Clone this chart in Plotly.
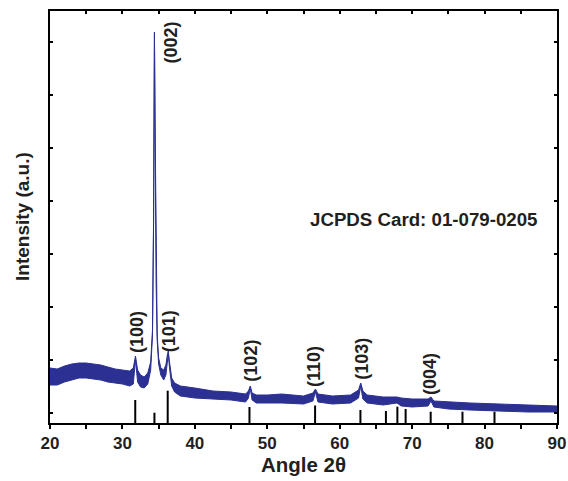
import plotly.graph_objects as go

# XRD pattern: noisy band given by its upper and lower edge (a.u.)
angle = [20.0, 21.0, 22.0, 23.0, 24.0, 25.0, 26.0, 27.0, 28.0, 29.0, 30.0, 31.0, 31.5, 31.8,
         32.1, 32.5, 33.0, 33.5, 33.9, 34.15, 34.3, 34.42, 34.5, 34.65, 34.8, 35.0, 35.3,
         35.7, 36.0, 36.2, 36.33, 36.5, 36.8, 37.2, 38.0, 40.0, 42.5, 45.0, 47.0, 47.4,
         47.65, 47.9, 48.5, 50.0, 52.0, 55.0, 56.3, 56.65, 57.0, 59.0, 61.5, 62.6, 62.9,
         63.2, 63.8, 66.0, 67.9, 68.5, 70.0, 72.2, 72.6, 73.0, 75.0, 78.0, 82.0, 86.0, 90.0]
upper = [550, 540, 570, 590, 600, 600, 590, 580, 560, 540, 530, 520, 550, 670,
         530, 480, 460, 500, 610, 930, 2030, 3910, 3030, 1430, 880, 650, 550,
         530, 580, 680, 720, 610, 450, 400, 370, 350, 320, 310, 290, 320,
         370, 300, 280, 280, 290, 270, 300, 340, 290, 270, 280, 330, 400,
         320, 280, 260, 260, 250, 240, 240, 260, 220, 210, 200, 190, 180, 170]
lower = [380, 380, 410, 430, 450, 450, 440, 430, 410, 400, 390, 370, 390, 630,
         410, 360, 350, 390, 530, 880, 1980, 3890, 2990, 1390, 830, 590, 480,
         430, 480, 630, 690, 550, 370, 310, 270, 250, 240, 230, 210, 250,
         350, 230, 200, 200, 200, 190, 220, 310, 210, 190, 200, 250, 370,
         240, 200, 180, 200, 170, 160, 170, 220, 160, 140, 130, 120, 110, 110]

# JCPDS 01-079-0205 reference lines
ref_angle = [31.77, 34.42, 36.25, 47.54, 56.60, 62.86, 66.38, 67.96, 69.10, 72.56, 76.95, 81.37]
ref_height = [230, 103, 323, 160, 175, 130, 120, 163, 140, 113, 113, 113]

# Peak labels
peak_label = ["(100)", "(002)", "(101)", "(102)", "(110)", "(103)", "(004)"]
label_x = [32.0, 36.7, 36.47, 47.7, 56.45, 63.03, 72.46]
label_y = [910, 3805, 920, 620, 560, 640, 490]

x_ticks = [20, 30, 40, 50, 60, 70, 80, 90]

BLUE = "rgb(43,48,146)"
INK = "#231f20"
FONT = "Liberation Sans, Arial, sans-serif"

fig = go.Figure()
fig.add_trace(go.Scatter(x=angle, y=lower, mode="lines",
                         line=dict(color=BLUE, width=1), showlegend=False, hoverinfo="skip"))
fig.add_trace(go.Scatter(x=angle, y=upper, mode="lines", fill="tonexty", fillcolor=BLUE,
                         line=dict(color=BLUE, width=1), showlegend=False))

sx, sy = [], []
for a, h in zip(ref_angle, ref_height):
    sx += [a, a, None]
    sy += [0, h, None]
fig.add_trace(go.Scatter(x=sx, y=sy, mode="lines", line=dict(color="black", width=2),
                         showlegend=False, hoverinfo="skip"))
# helper trace so the top axis is drawn
fig.add_trace(go.Scatter(x=[20, 90], y=[None, None], xaxis="x2", mode="lines",
                         showlegend=False, hoverinfo="skip"))

for t, x, y in zip(peak_label, label_x, label_y):
    fig.add_annotation(x=x, y=y, xref="x", yref="y", text=t, textangle=-90, showarrow=False,
                       xanchor="center", yanchor="middle",
                       font=dict(family=FONT, size=18, color=INK, weight="bold"))

fig.add_annotation(x=71.57, y=2040, xref="x", yref="y", text="JCPDS Card: 01-079-0205",
                   showarrow=False, xanchor="center", yanchor="middle",
                   font=dict(family=FONT, size=18.7, color=INK, weight="bold"))

# y-axis title placed next to the frame
fig.add_annotation(x=0, y=0.5, xref="paper", yref="paper", xshift=-28, text="Intensity (a.u.)",
                   textangle=-90, showarrow=False, xanchor="center", yanchor="middle",
                   font=dict(family=FONT, size=19, color=INK, weight="bold"))

fig.update_layout(
    width=568, height=481,
    margin=dict(l=50, r=11, t=11, b=58),
    paper_bgcolor="white", plot_bgcolor="white",
    font=dict(family=FONT, color=INK),
    xaxis=dict(range=[20, 90], tickvals=x_ticks, ticks="outside", ticklen=4, tickwidth=1.5,
               tickcolor="black", showline=True, linecolor="black", linewidth=1.5, mirror=True,
               showgrid=False, zeroline=False, automargin=False,
               minor=dict(dtick=5, tick0=20, ticks="outside", ticklen=4, tickwidth=1.5,
                          tickcolor="black"),
               tickfont=dict(family=FONT, size=17, color=INK, weight="bold"),
               title=dict(text="Angle 2θ", standoff=5,
                          font=dict(family=FONT, size=20.5, color=INK, weight="bold"))),
    xaxis2=dict(range=[20, 90], overlaying="x", side="top", anchor="y", dtick=5, tick0=20,
                ticks="inside", ticklen=3, tickwidth=1.5, tickcolor="black", automargin=False,
                showticklabels=False, showgrid=False, zeroline=False, showline=False),
    yaxis=dict(range=[0, 4120], tick0=100, dtick=530, ticks="inside", ticklen=3, tickwidth=1.5,
               tickcolor="black", showticklabels=False, showline=True, linecolor="black",
               linewidth=1.5, mirror="ticks", showgrid=False, zeroline=False, automargin=False),
)

fig.write_html("out.html", config={"displayModeBar": False},
               post_script="document.body.style.margin='0';")
